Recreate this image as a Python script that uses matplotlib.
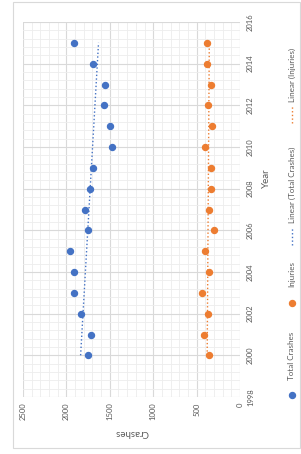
import numpy as np
import matplotlib
matplotlib.use("Agg")
import matplotlib.pyplot as plt
from matplotlib.lines import Line2D
from matplotlib.patches import Rectangle

plt.rcParams['font.family'] = ['Lato', 'DejaVu Sans']

years = [2000, 2001, 2002, 2003, 2004, 2005, 2006, 2007,
         2008, 2009, 2010, 2011, 2012, 2013, 2014, 2015]
total_crashes = [1746, 1715, 1835, 1908, 1908, 1958, 1750, 1788,
                 1723, 1688, 1477, 1500, 1565, 1558, 1696, 1915]
injuries = [354, 412, 369, 442, 358, 400, 304, 358,
            331, 331, 400, 319, 369, 338, 385, 385]

series_names = ["Total Crashes", "Injuries"]
trend_names = ["Linear (Total Crashes)", "Linear (Injuries)"]
blue = "#4472C4"
orange = "#ED7D31"
text_gray = "#595959"

W, H = 301, 454
fig = plt.figure(figsize=(W / 100, H / 100), dpi=100)

# outer chart border
fig.add_artist(Rectangle((13 / W, 1 - 448 / H), 287 / W, 446 / H,
                         transform=fig.transFigure, fill=False,
                         edgecolor="#D9D9D9", linewidth=0.8))

# chart is drawn rotated 90 degrees: crashes run right-to-left, years bottom-to-top
ax = fig.add_axes([23 / W, 1 - 397 / H, 217 / W, 375 / H])
ax.set_xlim(2500, 0)
ax.set_ylim(1998, 2016)

yrs = np.array(years, dtype=float)
for vals, col in [(total_crashes, blue), (injuries, orange)]:
    ax.plot(vals, years, 'o', color=col, markersize=4.3, zorder=3)
    k, b = np.polyfit(yrs, np.array(vals, dtype=float), 1)
    ax.plot(k * yrs[[0, -1]] + b, yrs[[0, -1]], ':', color=col,
            linewidth=1.0, zorder=2)

ax.set_xticks(np.arange(0, 2501, 500))
ax.set_xticks(np.arange(0, 2501, 100), minor=True)
ax.set_yticks(np.arange(1998, 2017, 2))
ax.set_yticks(np.arange(1998, 2016.01, 0.4), minor=True)
ax.grid(which='major', color="#D9D9D9", linewidth=0.8)
ax.grid(which='minor', color="#EDEDED", linewidth=0.6)
ax.set_axisbelow(True)
for s in ax.spines.values():
    s.set_visible(False)

ax.yaxis.tick_right()
ax.tick_params(which='both', length=0, labelsize=5.5, labelcolor=text_gray)
ax.tick_params(axis='y', pad=5)
ax.tick_params(axis='x', pad=4)
for lab in ax.get_xticklabels() + ax.get_yticklabels():
    lab.set_rotation(90)
for lab in ax.get_yticklabels():
    lab.set_va('center')

fig.text(132 / W, 1 - 432 / H, "Crashes", rotation=180, ha='center',
         va='center', fontsize=7, color=text_gray)
fig.text(266 / W, 1 - 178 / H, "Year", rotation=90, ha='center',
         va='center', fontsize=7, color=text_gray)

# legend, rotated along the right edge
lx = 292 / W
fig.add_artist(Line2D([lx], [1 - 395 / H], marker='o', color=blue,
                      markersize=4.3, linestyle='none', transform=fig.transFigure))
fig.text(lx, 1 - 380 / H, series_names[0], rotation=90, ha='center',
         va='bottom', fontsize=5.8, color=text_gray)
fig.add_artist(Line2D([lx], [1 - 303 / H], marker='o', color=orange,
                      markersize=4.3, linestyle='none', transform=fig.transFigure))
fig.text(lx, 1 - 287 / H, series_names[1], rotation=90, ha='center',
         va='bottom', fontsize=5.8, color=text_gray)
fig.add_artist(Line2D([lx, lx], [1 - 245 / H, 1 - 227 / H], linestyle=':',
                      color=blue, linewidth=1.0, transform=fig.transFigure))
fig.text(lx, 1 - 223 / H, trend_names[0], rotation=90, ha='center',
         va='bottom', fontsize=5.8, color=text_gray)
fig.add_artist(Line2D([lx, lx], [1 - 123 / H, 1 - 106 / H], linestyle=':',
                      color=orange, linewidth=1.0, transform=fig.transFigure))
fig.text(lx, 1 - 102 / H, trend_names[1], rotation=90, ha='center',
         va='bottom', fontsize=5.8, color=text_gray)

fig.savefig("out.png", dpi=100)
